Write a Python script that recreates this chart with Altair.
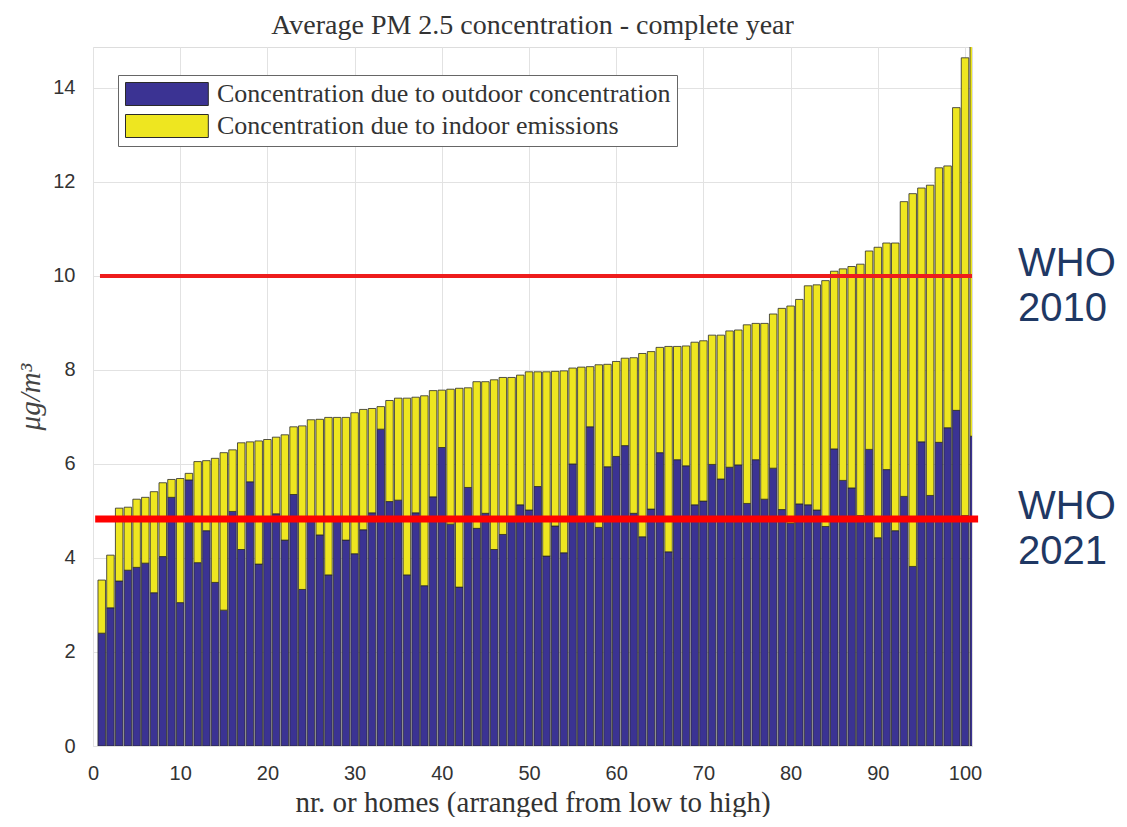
import altair as alt
import pandas as pd

# ---------------- data ----------------
homes = list(range(1, 102))
total = [3.53, 4.06, 5.06, 5.08, 5.25, 5.29, 5.41, 5.60, 5.67, 5.69,
         5.80, 6.05, 6.07, 6.12, 6.24, 6.30, 6.45, 6.47, 6.49, 6.52,
         6.57, 6.62, 6.79, 6.81, 6.94, 6.95, 6.99, 6.99, 6.99, 7.09,
         7.16, 7.18, 7.22, 7.35, 7.40, 7.40, 7.42, 7.45, 7.56, 7.57,
         7.59, 7.61, 7.62, 7.75, 7.75, 7.79, 7.84, 7.84, 7.89, 7.96,
         7.96, 7.96, 7.97, 7.98, 8.04, 8.06, 8.07, 8.11, 8.12, 8.18,
         8.25, 8.26, 8.35, 8.39, 8.48, 8.50, 8.50, 8.51, 8.59, 8.62,
         8.74, 8.74, 8.83, 8.85, 8.96, 8.99, 8.99, 9.19, 9.31, 9.36,
         9.50, 9.79, 9.81, 9.90, 10.10, 10.15, 10.20, 10.25, 10.53, 10.61,
         10.70, 10.70, 11.58, 11.75, 11.87, 11.93, 12.30, 12.34, 13.58, 14.64,
         15.20]
outdoor = [2.40, 2.94, 3.51, 3.74, 3.80, 3.89, 3.26, 4.03, 5.29, 3.05,
           5.66, 3.90, 4.58, 3.48, 2.89, 4.99, 4.18, 5.62, 3.87, 4.80,
           4.94, 4.38, 5.35, 3.33, 4.80, 4.49, 3.64, 4.85, 4.38, 4.09,
           4.60, 4.96, 6.74, 5.20, 5.23, 3.64, 4.96, 3.41, 5.30, 6.35,
           4.72, 3.38, 5.50, 4.63, 4.95, 4.18, 4.50, 4.85, 5.13, 5.02,
           5.52, 4.04, 4.68, 4.11, 6.00, 4.85, 6.79, 4.65, 5.94, 6.16,
           6.39, 4.95, 4.45, 5.04, 6.24, 4.13, 6.09, 5.96, 5.13, 5.21,
           5.99, 5.68, 5.93, 5.98, 5.16, 6.09, 5.25, 5.91, 5.03, 4.74,
           5.15, 5.13, 5.02, 4.67, 6.32, 5.65, 5.49, 4.90, 6.31, 4.43,
           5.88, 4.58, 5.31, 3.82, 6.47, 5.33, 6.46, 6.77, 7.14, 4.90,
           6.59]

series_names = ["Concentration due to outdoor concentration",
                "Concentration due to indoor emissions"]
series_colors = ["#3b3393", "#eee620"]

who_levels = [10.0, 4.83]
who_labels = ["WHO\n2010", "WHO\n2021"]
who_x_start = [0.8, 0.25]
who_x_end = [100.8, 101.5]

x_ticks = list(range(0, 101, 10))
y_ticks = list(range(0, 15, 2))

# ---------------- tables ----------------
rows = []
for h, t, o in zip(homes, total, outdoor):
    rows.append({"home": h, "series": series_names[0], "lo": 0.0, "hi": o})
    rows.append({"home": h, "series": series_names[1], "lo": o, "hi": t})
bars_df = pd.DataFrame(rows)

who_df = pd.DataFrame({"level": who_levels, "label": who_labels,
                       "xs": who_x_start, "xe": who_x_end})

SERIF = "Liberation Serif"
SANS = "Liberation Sans"

xscale = alt.Scale(domain=[0, 100.8], nice=False, zero=False)
yscale = alt.Scale(domain=[0, 14.87], nice=False)

bars = alt.Chart(bars_df).mark_bar(
    clip=True, stroke="#2a2a2a", strokeWidth=0.8, opacity=1
).transform_calculate(
    x0="datum.home - 0.43", x1="datum.home + 0.43"
).encode(
    x=alt.X("x0:Q", scale=xscale,
            axis=alt.Axis(values=x_ticks, title="nr. or homes (arranged from low to high)",
                          grid=True, gridColor="#e2e2e2", domain=False, ticks=False,
                          labelFont=SANS, labelFontSize=20, labelColor="#333333",
                          labelPadding=17, labelFlush=False,
                          titleFont=SERIF, titleFontSize=29, titleFontWeight="normal",
                          titleColor="#333333", titlePadding=5)),
    x2="x1:Q",
    y=alt.Y("lo:Q", scale=yscale,
            axis=alt.Axis(values=y_ticks, title="μg/m³",
                          grid=True, gridColor="#e2e2e2", domain=False, ticks=False,
                          labelFont=SANS, labelFontSize=20, labelColor="#333333",
                          labelPadding=18,
                          titleFont=SERIF, titleFontSize=29, titleFontStyle="italic",
                          titleFontWeight="normal", titleColor="#444444",
                          titlePadding=7)),
    y2="hi:Q",
    color=alt.Color("series:N",
                    scale=alt.Scale(domain=series_names, range=series_colors),
                    sort=series_names,
                    legend=alt.Legend(
                        title=None, orient="none", legendX=25, legendY=28,
                        direction="vertical",
                        symbolType="M-1,-1L6.2,-1L6.2,1L-1,1Z",
                        symbolSize=529, symbolStrokeColor="#2a2a2a",
                        symbolStrokeWidth=1, symbolOpacity=1,
                        labelFont=SERIF, labelFontSize=26, labelColor="#333333",
                        labelOffset=67, labelLimit=800, rowPadding=4,
                        padding=6, fillColor="white", strokeColor="#666666",
                        cornerRadius=0)),
)

rule_2010 = alt.Chart(who_df).transform_filter(
    alt.datum.level > 6
).mark_rule(color="#ee1c1c", strokeWidth=4).encode(
    x=alt.X("xs:Q", scale=xscale), x2="xe:Q", y=alt.Y("level:Q", scale=yscale))

rule_2021 = alt.Chart(who_df).transform_filter(
    alt.datum.level < 6
).mark_rule(color="#ff0000", strokeWidth=7).encode(
    x=alt.X("xs:Q", scale=xscale), x2="xe:Q", y=alt.Y("level:Q", scale=yscale))

who_text = alt.Chart(who_df).mark_text(
    align="left", baseline="alphabetic", font=SANS, fontSize=40,
    color="#1f3864", lineBreak="\n", lineHeight=45, clip=False
).encode(
    x=alt.value(925),
    y=alt.Y("level:Q", scale=yscale),
    text="label:N",
)

chart = alt.layer(bars, rule_2010, rule_2021, who_text).properties(
    width=879, height=699,
    autosize=alt.AutoSizeParams(type="none"),
    padding={"left": 85, "top": 39, "right": 147, "bottom": 71},
    title=alt.TitleParams("Average PM 2.5 concentration - complete year",
                          font=SERIF, fontSize=28, fontWeight="normal",
                          color="#333333", anchor="middle", offset=7),
).configure_view(
    stroke="#8a8a8a", strokeWidth=1.5
).configure(background="white")

chart.save("out.html", embed_options={"renderer": "svg", "actions": False})
